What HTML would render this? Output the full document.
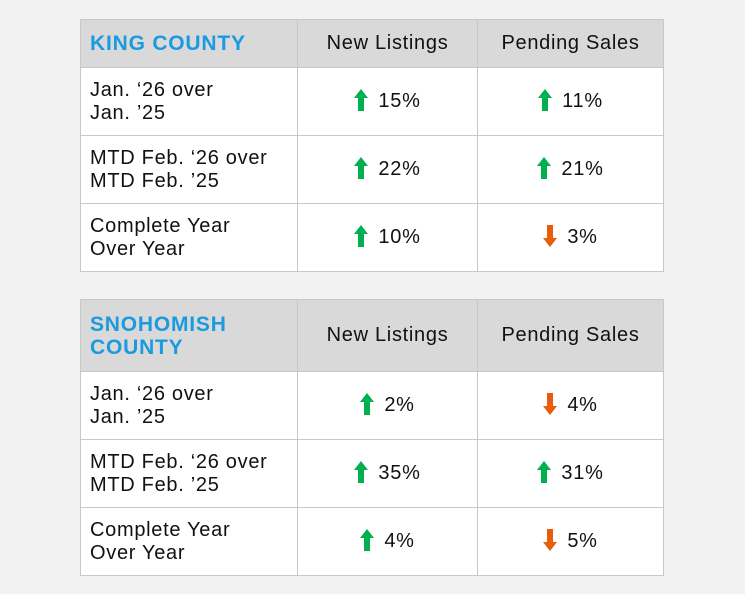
<!DOCTYPE html>
<html><head><style>
body{margin:0;width:745px;height:594px;background:#f2f2f2;font-family:"Liberation Sans",sans-serif;position:relative;overflow:hidden}
table{position:absolute;left:80px;border-collapse:collapse;table-layout:fixed;width:583px;background:#fff}
td{border:1px solid #c8c8c8;font-size:20px;color:#111;padding:0;line-height:23px;letter-spacing:0.7px}
td.l{padding-left:9px}
td.c{text-align:center}
tr.h td{background:#d9d9d9}
td.t{color:#1a9be0;font-weight:bold;font-size:21px;letter-spacing:0.8px}
.a{display:inline-block;vertical-align:middle;margin-right:10px;position:relative;top:-2px}
</style></head><body>
<svg width="0" height="0" style="position:absolute"><defs>
<symbol id="u" viewBox="0 0 14 22"><polygon points="7,0 14,9 10,9 10,22 4,22 4,9 0,9" fill="#00b050"/></symbol>
<symbol id="d" viewBox="0 0 14 22"><polygon points="7,22 14,13 10,13 10,0 4,0 4,13 0,13" fill="#e85d0c"/></symbol>
</defs></svg>
<table style="top:19px">
<colgroup><col style="width:217px"><col style="width:180px"><col style="width:186px"></colgroup>
<tr class="h" style="height:48px"><td class="l t">KING COUNTY</td><td class="c">New Listings</td><td class="c">Pending Sales</td></tr>
<tr style="height:68px"><td class="l">Jan. ‘26 over<br>Jan. ’25</td><td class="c"><svg class="a" width="14" height="22"><use href="#u"/></svg>15%</td><td class="c"><svg class="a" width="14" height="22"><use href="#u"/></svg>11%</td></tr>
<tr style="height:68px"><td class="l">MTD Feb. ‘26 over<br>MTD Feb. ’25</td><td class="c"><svg class="a" width="14" height="22"><use href="#u"/></svg>22%</td><td class="c"><svg class="a" width="14" height="22"><use href="#u"/></svg>21%</td></tr>
<tr style="height:68px"><td class="l">Complete Year<br>Over Year</td><td class="c"><svg class="a" width="14" height="22"><use href="#u"/></svg>10%</td><td class="c"><svg class="a" width="14" height="22"><use href="#d"/></svg>3%</td></tr>
</table>
<table style="top:299px">
<colgroup><col style="width:217px"><col style="width:180px"><col style="width:186px"></colgroup>
<tr class="h" style="height:72px"><td class="l t">SNOHOMISH<br>COUNTY</td><td class="c">New Listings</td><td class="c">Pending Sales</td></tr>
<tr style="height:68px"><td class="l">Jan. ‘26 over<br>Jan. ’25</td><td class="c"><svg class="a" width="14" height="22"><use href="#u"/></svg>2%</td><td class="c"><svg class="a" width="14" height="22"><use href="#d"/></svg>4%</td></tr>
<tr style="height:68px"><td class="l">MTD Feb. ‘26 over<br>MTD Feb. ’25</td><td class="c"><svg class="a" width="14" height="22"><use href="#u"/></svg>35%</td><td class="c"><svg class="a" width="14" height="22"><use href="#u"/></svg>31%</td></tr>
<tr style="height:68px"><td class="l">Complete Year<br>Over Year</td><td class="c"><svg class="a" width="14" height="22"><use href="#u"/></svg>4%</td><td class="c"><svg class="a" width="14" height="22"><use href="#d"/></svg>5%</td></tr>
</table>
</body></html>
